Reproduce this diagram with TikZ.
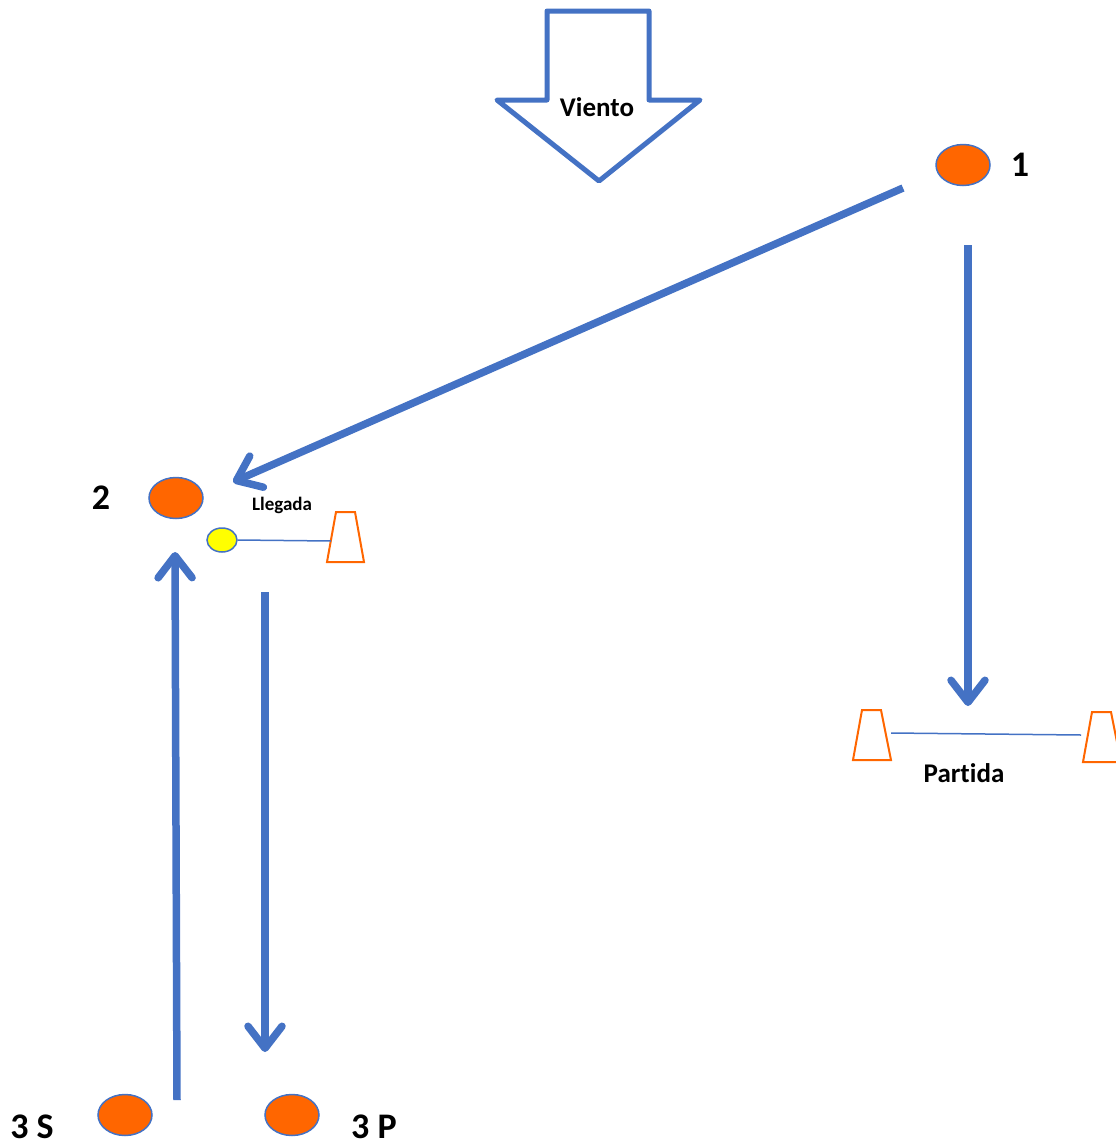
\documentclass[tikz,border=0pt]{standalone}
\usepackage{fontspec}
\setmainfont{Carlito}[Ligatures={NoCommon}]
\usetikzlibrary{arrows.meta,shapes.geometric}
\definecolor{ablue}{HTML}{4472C4}
\definecolor{aorange}{HTML}{FF6600}
\definecolor{ayellow}{HTML}{FFFF00}
\tikzset{
  buoy/.style={ellipse,draw=ablue,line width=1.5pt,fill=aorange,minimum width=54pt,minimum height=41pt,inner sep=0pt},
  smallbuoy/.style={ellipse,draw=ablue,line width=1.5pt,fill=ayellow,minimum width=30pt,minimum height=24pt,inner sep=0pt},
  bigarrow/.style={draw=ablue,line width=7.5pt,-{Straight Barb[length=22pt,width=34pt,line cap=round,line join=round]}},
  thinline/.style={draw=ablue,line width=1.5pt},
  cone/.style={draw=aorange,line width=2pt,fill=white,line join=miter},
  bigtxt/.style={font=\fontsize{36}{40}\selectfont\bfseries,inner sep=0pt},
  midtxt/.style={font=\fontsize{27}{30}\selectfont\bfseries,inner sep=0pt},
  smalltxt/.style={font=\fontsize{19}{22}\selectfont\bfseries,inner sep=0pt},
}
\begin{document}
\begin{tikzpicture}[x=1pt,y=-1pt]
\useasboundingbox (0,0) rectangle (1116,1146);
% wind arrow
\draw[ablue,line width=5pt,line join=round,fill=white] (547,11) -- (649,11) -- (649,100) -- (700,100) -- (599,181) -- (497,100) -- (547,100) -- cycle;
\node[midtxt] (viento) at (597,107) {Viento};
% buoys
\node[buoy] (b1) at (963,165) {};
\node[bigtxt] (l1) at (1020,165) {1};
\node[buoy] (b2) at (176,498) {};
\node[bigtxt] (l2) at (101,498) {2};
\node[buoy] (b3s) at (125,1115) {};
\node[bigtxt] (l3s) at (32,1127) {3 S};
\node[buoy] (b3p) at (292,1115) {};
\node[bigtxt] (l3p) at (374,1127) {3 P};
% finish
\node[smallbuoy] (yb) at (222,540) {};
\draw[cone] (336,512) -- (355,512) -- (364,562) -- (327,562) -- cycle;
\coordinate (c1l) at (331,541);
\draw[thinline] (yb.east) -- (c1l);
\node[smalltxt] (llegada) at (282,505) {Llegada};
% start
\coordinate (c2l) at (891,733);
\coordinate (c3r) at (1081,735);
\draw[cone] (862,710) -- (881,710) -- (891,760) -- (853,760) -- cycle;
\draw[cone] (1092,712) -- (1111,712) -- (1121,762) -- (1083,762) -- cycle;
\draw[thinline] (c2l) -- (c3r);
\node[midtxt] (partida) at (964,773) {Partida};
% course arrows
\coordinate (a1s) at (903,188);
\coordinate (a1e) at (233,482);
\draw[bigarrow] (a1s) -- (a1e);
\coordinate (a2s) at (968,245);
\coordinate (a2e) at (968,706);
\draw[bigarrow] (a2s) -- (a2e);
\coordinate (a3s) at (177,1100);
\coordinate (a3e) at (175,552);
\draw[bigarrow] (a3s) -- (a3e);
\coordinate (a4s) at (265,592);
\coordinate (a4e) at (265,1052);
\draw[bigarrow] (a4s) -- (a4e);
\end{tikzpicture}
\end{document}
